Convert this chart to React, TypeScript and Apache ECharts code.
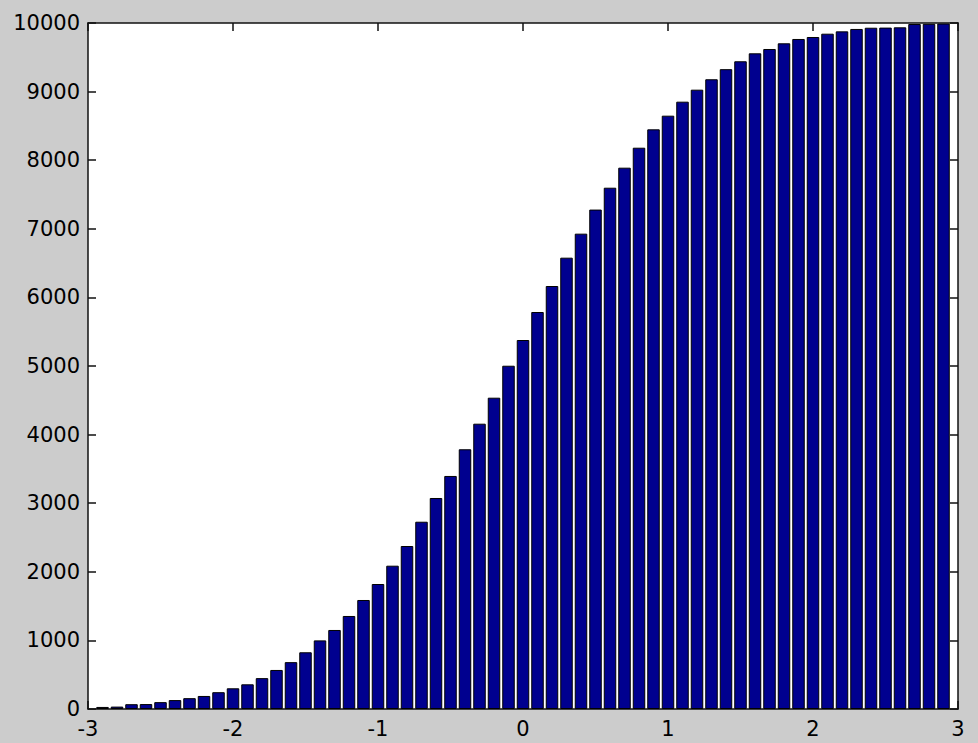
import React, { useEffect, useRef } from "react";
import * as echarts from "echarts";

const binCenters = [
  -2.9, -2.8, -2.7, -2.6, -2.5, -2.4, -2.3, -2.2, -2.1, -2.0,
  -1.9, -1.8, -1.7, -1.6, -1.5, -1.4, -1.3, -1.2, -1.1, -1.0,
  -0.9, -0.8, -0.7, -0.6, -0.5, -0.4, -0.3, -0.2, -0.1, 0.0,
  0.1, 0.2, 0.3, 0.4, 0.5, 0.6, 0.7, 0.8, 0.9, 1.0,
  1.1, 1.2, 1.3, 1.4, 1.5, 1.6, 1.7, 1.8, 1.9, 2.0,
  2.1, 2.2, 2.3, 2.4, 2.5, 2.6, 2.7, 2.8, 2.9,
];

const cumulativeCounts = [
  30, 35, 70, 72, 100, 130, 158, 190, 245, 302,
  360, 450, 569, 683, 827, 1000, 1152, 1356, 1589, 1822,
  2089, 2376, 2730, 3076, 3397, 3786, 4159, 4538, 5004, 5379,
  5787, 6166, 6579, 6929, 7280, 7599, 7891, 8182, 8450, 8649,
  8853, 9028, 9180, 9327, 9442, 9558, 9621, 9704, 9767, 9796,
  9844, 9878, 9913, 9931, 9933, 9937, 9985, 9988, 9992,
];

const xMin = -3;
const xMax = 3;
const yMin = 0;
const yMax = 10000;

export default function App() {
  const ref = useRef<HTMLDivElement>(null);
  useEffect(() => {
    if (!ref.current) return;
    const chart = echarts.init(ref.current, undefined, { renderer: "svg" });
    const font = { color: "#000", fontFamily: "DejaVu Sans", fontSize: 21 };
    const line = { show: true, onZero: false, lineStyle: { color: "#111", width: 1.5 } };
    const tick = { show: true, inside: true, length: 8, lineStyle: { color: "#111", width: 1.5 } };
    chart.setOption({
      animation: false,
      backgroundColor: "#cccccc",
      grid: { left: 88, top: 23, right: 20, bottom: 34, show: true, backgroundColor: "#ffffff", borderWidth: 0 },
      xAxis: [
        {
          type: "value", min: xMin, max: xMax, interval: 1, position: "bottom",
          axisLine: line, axisTick: tick,
          axisLabel: { ...font, margin: 9, formatter: (v: number) => String(v) },
          splitLine: { show: false },
        },
        {
          type: "value", min: xMin, max: xMax, interval: 1, position: "top",
          axisLine: line, axisTick: tick,
          axisLabel: { show: false },
          splitLine: { show: false },
        },
      ],
      yAxis: [
        {
          type: "value", min: yMin, max: yMax, interval: 1000, position: "left",
          axisLine: line, axisTick: tick,
          axisLabel: { ...font, margin: 8, formatter: (v: number) => String(v) },
          splitLine: { show: false },
        },
        {
          type: "value", min: yMin, max: yMax, interval: 1000, position: "right",
          axisLine: line, axisTick: tick,
          axisLabel: { show: false },
          splitLine: { show: false },
        },
      ],
      series: [
        {
          type: "bar",
          xAxisIndex: 0,
          yAxisIndex: 0,
          data: binCenters.map((x, i) => [x, cumulativeCounts[i]]),
          barWidth: 12.5,
          itemStyle: { color: "#00008f", borderColor: "#000", borderWidth: 1 },
        },
      ],
    });
    return () => chart.dispose();
  }, []);
  return (
    <div
      ref={ref}
      style={{ position: "absolute", left: 0, top: 0, width: 978, height: 743 }}
    />
  );
}
